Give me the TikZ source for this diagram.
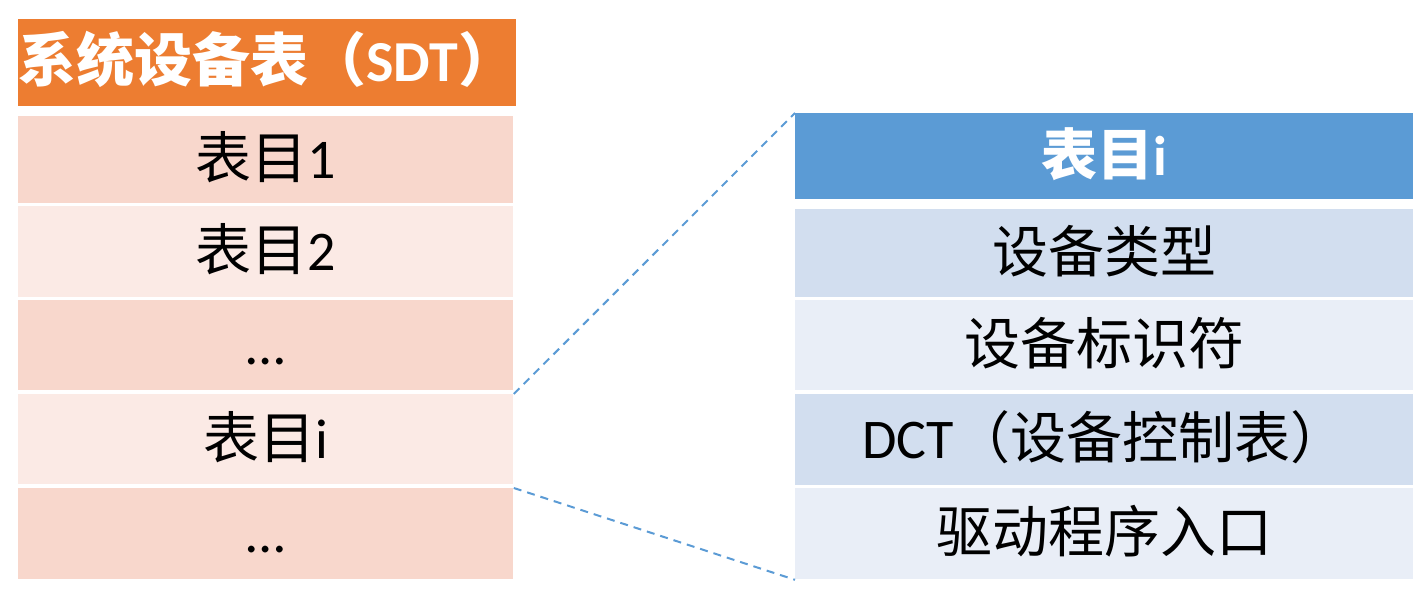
\documentclass[tikz,border=0pt]{standalone}
\usepackage{fontspec}
\setmainfont{Carlito}
\newfontfamily\cjk{Noto Sans CJK SC}
\definecolor{sdtorange}{HTML}{ED7D31}
\definecolor{rowdark}{HTML}{F8D7CC}
\definecolor{rowlight}{HTML}{FBEAE5}
\definecolor{dctblue}{HTML}{5B9BD5}
\definecolor{bluedark}{HTML}{D2DEEF}
\definecolor{bluelight}{HTML}{E9EEF7}
\begin{document}
\begin{tikzpicture}[x=0.5pt,y=-0.5pt,
  cell/.style={rectangle, inner sep=0pt, anchor=north west, text=black,
    text height=22.5pt, text depth=3.5pt,
    font=\fontsize{28}{32}\selectfont},
  lcell/.style={cell, minimum width=247.5pt},
  rcell/.style={cell, minimum width=309pt},
  hdr/.style={text=white, font=\fontsize{28}{32}\selectfont\bfseries},
  link/.style={draw=dctblue, line width=1pt, dash pattern=on 4pt off 3pt}]
\useasboundingbox (0,0) rectangle (1427,608);
% left table
\node[lcell, hdr, fill=sdtorange, minimum height=43.5pt, font=\fontsize{29}{32}\selectfont\bfseries] (l0) at (18,19) {{\cjk 系统设备表（}SDT{\cjk ）}};
\node[lcell, fill=rowdark, minimum height=43.5pt] (l1) at (18,116) {{\cjk 表目}1};
\node[lcell, fill=rowlight, minimum height=45.5pt] (l2) at (18,206) {{\cjk 表目}2};
\node[lcell, fill=rowdark, minimum height=45pt] (l3) at (18,300) {…};
\node[lcell, fill=rowlight, minimum height=45pt] (l4) at (18,394) {{\cjk 表目}i};
\node[lcell, fill=rowdark, minimum height=45.5pt] (l5) at (18,488) {…};
% right table
\node[rcell, hdr, fill=dctblue, minimum height=43pt] (r0) at (795,113) {{\cjk 表目}i};
\node[rcell, fill=bluedark, minimum height=44pt] (r1) at (795,209) {\cjk 设备类型};
\node[rcell, fill=bluelight, minimum height=45pt] (r2) at (795,300) {\cjk 设备标识符};
\node[rcell, fill=bluedark, minimum height=45.5pt] (r3) at (795,394) {DCT{\cjk （设备控制表）}};
\node[rcell, fill=bluelight, minimum height=45.5pt] (r4) at (795,488) {\cjk 驱动程序入口};
% connectors
\draw[link] (l4.north east) -- (r0.north west);
\draw[link] (l5.north east) -- (r4.south west);
\end{tikzpicture}
\end{document}
